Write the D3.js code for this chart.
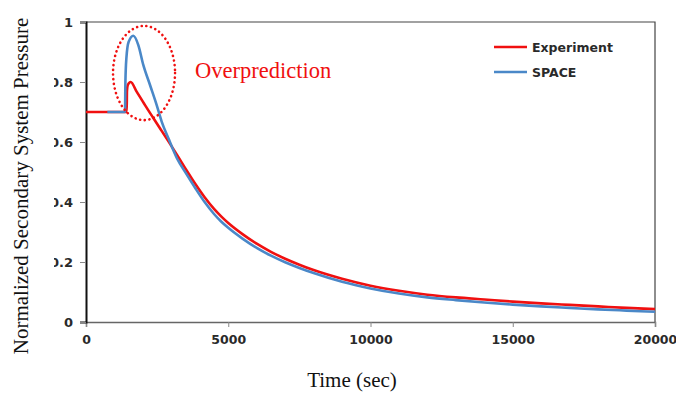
<!DOCTYPE html>
<html>
<head>
<meta charset="utf-8">
<script src="https://cdn.jsdelivr.net/npm/d3@7"></script>
<style>
  body { margin: 0; background: #fff; }
  svg { display: block; }
</style>
</head>
<body>
<div id="chart"></div>
<script>
// values
const expTime = [0, 1430, 1440, 1470, 1570, 1780, 2074, 2366, 2660, 2893, 3200, 3538, 3850, 4183, 4500, 4750, 5000, 5500, 6000, 6500, 7000, 7500, 8000, 9000, 10000, 11000, 12000, 13000, 14000, 15000, 16000, 17000, 18000, 19000, 20000];
const expValue = [0.70, 0.70, 0.77, 0.79, 0.80, 0.768, 0.723, 0.68, 0.637, 0.603, 0.557, 0.505, 0.459, 0.414, 0.377, 0.352, 0.330, 0.293, 0.261, 0.234, 0.211, 0.191, 0.173, 0.144, 0.121, 0.104, 0.091, 0.082, 0.075, 0.068, 0.062, 0.057, 0.052, 0.047, 0.043];

const spaceTime = [750, 1371, 1385, 1420, 1500, 1663, 1839, 2014, 2250, 2485, 2660, 2893, 3200, 3538, 3850, 4183, 4500, 4750, 5000, 5500, 6000, 6500, 7000, 7500, 8000, 9000, 10000, 11000, 12000, 13000, 14000, 15000, 16000, 17000, 18000, 19000, 20000];
const spaceValue = [0.70, 0.70, 0.80, 0.88, 0.934, 0.954, 0.923, 0.857, 0.79, 0.723, 0.668, 0.613, 0.545, 0.492, 0.445, 0.398, 0.360, 0.335, 0.314, 0.278, 0.247, 0.221, 0.199, 0.180, 0.163, 0.134, 0.112, 0.095, 0.082, 0.073, 0.065, 0.058, 0.052, 0.047, 0.042, 0.038, 0.034];

const xTicks = [0, 5000, 10000, 15000, 20000];
const yTicks = [0, 0.2, 0.4, 0.6, 0.8, 1];
const seriesNames = ["Experiment", "SPACE"];
const seriesColors = ["#f01010", "#4a88c8"];

const W = 676, H = 393;
const margin = { top: 22, right: 21, bottom: 71, left: 86 };
const width = W - margin.left - margin.right;
const height = H - margin.top - margin.bottom;

const svg = d3.select("#chart").append("svg")
  .attr("width", W)
  .attr("height", H);

const g = svg.append("g")
  .attr("transform", `translate(${margin.left},${margin.top})`);

const x = d3.scaleLinear().domain([0, 20000]).range([0, width]);
const y = d3.scaleLinear().domain([0, 1]).range([height, 0]);

// frame (top and right)
g.append("path")
  .attr("d", `M0,0H${width}V${height}`)
  .attr("fill", "none")
  .attr("stroke", "#444")
  .attr("stroke-width", 1.2);

// x axis
const xAxis = g.append("g")
  .attr("transform", `translate(0,${height})`)
  .call(d3.axisBottom(x).tickValues(xTicks).tickSize(5).tickPadding(8).tickFormat(d3.format("d")));
xAxis.select(".domain").attr("stroke", "#666").attr("stroke-width", 1.5);
xAxis.selectAll(".tick line").attr("stroke", "#888");
xAxis.selectAll(".tick text").attr("font-size", 12.5);

// y axis
const yAxis = g.append("g")
  .call(d3.axisLeft(y).tickValues(yTicks).tickSize(6).tickPadding(7).tickFormat(d => d === 0 || d === 1 ? d : d3.format(".1f")(d)));
yAxis.select(".domain").attr("stroke", "#111").attr("stroke-width", 2);
yAxis.selectAll(".tick line").attr("stroke", "#888");
yAxis.selectAll(".tick text").attr("font-size", 13);

svg.selectAll(".tick text")
  .attr("font-family", "DejaVu Sans")
  .attr("font-weight", "bold")
  .attr("fill", "#2a2a2a");

// lines
const line = d3.line()
  .x(d => x(d[0]))
  .y(d => y(d[1]))
  .curve(d3.curveMonotoneX);

const series = [
  d3.zip(expTime, expValue),
  d3.zip(spaceTime, spaceValue)
];

series.forEach((s, i) => {
  g.append("path")
    .datum(s)
    .attr("fill", "none")
    .attr("stroke", seriesColors[i])
    .attr("stroke-width", 2.6)
    .attr("stroke-linejoin", "round")
    .attr("d", line);
});

// annotation ellipse
g.append("ellipse")
  .attr("cx", x(2040))
  .attr("cy", y(0.83))
  .attr("rx", x(1090) - x(0))
  .attr("ry", y(0) - y(0.157))
  .attr("fill", "none")
  .attr("stroke", "#f01010")
  .attr("stroke-width", 2.6)
  .attr("stroke-linecap", "round")
  .attr("stroke-dasharray", "0.1 4.6");

g.append("text")
  .attr("x", 195 - margin.left)
  .attr("y", 78 - margin.top)
  .attr("font-family", "Liberation Serif")
  .attr("font-size", 22.5)
  .attr("fill", "#f01010")
  .text("Overprediction");

// legend
const legend = svg.append("g").attr("transform", "translate(494,47)");
seriesNames.forEach((name, i) => {
  const row = legend.append("g").attr("transform", `translate(0,${i * 25})`);
  row.append("line")
    .attr("x1", 0).attr("x2", 33)
    .attr("stroke", seriesColors[i])
    .attr("stroke-width", 2.6);
  row.append("text")
    .attr("x", 38)
    .attr("dy", "0.36em")
    .attr("font-family", "DejaVu Sans")
    .attr("font-weight", "bold")
    .attr("font-size", 12.5)
    .attr("fill", "#2a2a2a")
    .text(name);
});

// white strip behind y title (clips tick labels like the original)
svg.append("rect")
  .attr("x", 0).attr("y", 0)
  .attr("width", 54).attr("height", H)
  .attr("fill", "#fff");

svg.append("text")
  .attr("transform", `translate(28,${margin.top + height / 2 + 14}) rotate(-90)`)
  .attr("text-anchor", "middle")
  .attr("font-family", "Liberation Serif")
  .attr("font-size", 21)
  .attr("fill", "#111")
  .text("Normalized Secondary System Pressure");

svg.append("text")
  .attr("x", 352)
  .attr("y", 387)
  .attr("text-anchor", "middle")
  .attr("font-family", "Liberation Serif")
  .attr("font-size", 21)
  .attr("fill", "#111")
  .text("Time (sec)");
</script>
</body>
</html>
